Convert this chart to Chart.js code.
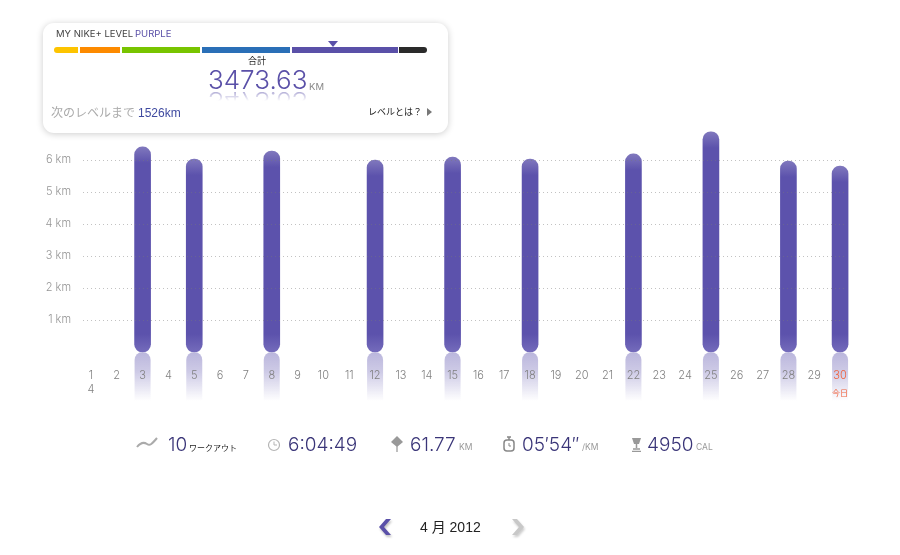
<!DOCTYPE html>
<html lang="ja">
<head>
<meta charset="utf-8">
<title>Nike+ 4月 2012</title>
<script src="https://cdn.jsdelivr.net/npm/chart.js@4"></script>
<style>
  html, body { margin: 0; padding: 0; background: #fff; }
  #page { position: relative; width: 900px; height: 555px; overflow: hidden;
          font-family: Inter, "Noto Sans CJK JP", sans-serif; }
  #page span, #page div.abs, #page svg { position: absolute; white-space: nowrap; }
  canvas { position: absolute; left: 0; top: 0; }

  /* level panel */
  #panel { position: absolute; left: 43px; top: 23px; width: 405px; height: 110px; background: #fff;
           border-radius: 11px; box-shadow: 0 1px 7px rgba(0,0,0,.2); }
  .seg { position: absolute; top: 47px; height: 6px; }
  .total { left: 208px; top: 65px; font-size: 26px; font-weight: 300; color: #5a50a8; line-height: 30px; }
  .mirror { top: 86px; transform: scaleY(-1);
            -webkit-mask-image: linear-gradient(to top, rgba(0,0,0,.75), transparent 50%);
            mask-image: linear-gradient(to top, rgba(0,0,0,.75), transparent 50%); }

  /* stats row */
  .big { top: 433px; font-size: 19px; line-height: 23px; font-weight: 300; color: #3a3578; }
  .unit { top: 441px; font-size: 8.5px; line-height: 12px; color: #999; }
</style>
</head>
<body>
<div id="page">
  <canvas id="runChart" width="900" height="555"></canvas>

  <div id="panel"></div>
  <span style="left:56px;top:28px;font-size:9.5px;line-height:12px;color:#444">MY NIKE+ LEVEL</span>
  <span style="left:135px;top:28px;font-size:9.5px;line-height:12px;color:#5a50a8">PURPLE</span>
  <div class="seg" style="left:54px;width:24px;background:#fdc400;border-radius:3px 0 0 3px"></div>
  <div class="seg" style="left:80px;width:40px;background:#fd8a00"></div>
  <div class="seg" style="left:122px;width:78px;background:#78c400"></div>
  <div class="seg" style="left:202px;width:88px;background:#2a6fb7"></div>
  <div class="seg" style="left:292px;width:106px;background:#5a50a8"></div>
  <div class="seg" style="left:399px;width:28px;background:#2a2a2a;border-radius:0 3px 3px 0"></div>
  <svg style="left:328px;top:41px" width="10" height="6"><path d="M0 0H10L5 6Z" fill="#5a50a8"/></svg>
  <span style="left:248px;top:55px;font-size:9px;line-height:12px;color:#222">合計</span>
  <span class="total">3473.63</span>
  <span class="total mirror">3473.63</span>
  <span style="left:309px;top:81px;font-size:9.5px;line-height:12px;color:#888">KM</span>
  <span style="left:51px;top:105px;font-size:12px;line-height:16px;color:#aaa">次のレベルまで</span>
  <span style="left:138px;top:105px;font-size:12px;line-height:16px;color:#3f4aa0;font-family:'Liberation Sans',sans-serif">1526km</span>
  <span style="left:368px;top:105px;font-size:9px;line-height:13px;color:#222">レベルとは？</span>
  <svg style="left:427px;top:108px" width="5" height="8"><path d="M0 0L5 4L0 8Z" fill="#777"/></svg>

  <span id="today" style="font-size:8px;line-height:10px;color:#f0603a;top:388px">今日</span>

  <!-- stats -->
  <svg style="left:136px;top:436px" width="22" height="14"><path d="M1 11C5 6 8 6 11 8S16 8 21 2" fill="none" stroke="#aaa" stroke-width="2"/></svg>
  <span class="big" style="left:168px">10</span>
  <span class="unit" style="left:189px;top:442px;font-size:8px;color:#222">ワークアウト</span>
  <svg style="left:267px;top:438px" width="14" height="14"><circle cx="7" cy="7" r="5.5" fill="none" stroke="#b5b5b5" stroke-width="1.2"/><path d="M7 3.5V7H10" fill="none" stroke="#b5b5b5"/></svg>
  <span class="big" style="left:288px">6:04:49</span>
  <svg style="left:391px;top:436px" width="12" height="16"><path d="M6 0L12 6L6 11L0 6Z" fill="#999"/><path d="M6 10V16" stroke="#aaa" stroke-width="1.5"/></svg>
  <span class="big" style="left:410px">61.77</span>
  <span class="unit" style="left:459px">KM</span>
  <svg style="left:503px;top:436px" width="12" height="16"><path d="M4 1H8M6 1V4" stroke="#888" stroke-width="1.5"/><rect x="1" y="4" width="10" height="11" rx="3" fill="none" stroke="#888" stroke-width="1.5"/><path d="M6 7V10H8" fill="none" stroke="#888"/></svg>
  <span class="big" style="left:522px">05′54″</span>
  <span class="unit" style="left:582px">/KM</span>
  <svg style="left:631px;top:436px" width="11" height="16"><path d="M1 2H10L8 8H3Z" fill="#999"/><path d="M5.5 8V12M2 13H9M1 15.5H10" stroke="#999" stroke-width="1.5"/></svg>
  <span class="big" style="left:647px">4950</span>
  <span class="unit" style="left:696px">CAL</span>

  <!-- month nav -->
  <svg style="left:376px;top:517px;filter:drop-shadow(1px 2px 1px rgba(0,0,0,.25))" width="20" height="22"><path d="M15 2L8 10L15 18H10L3 10L10 2Z" fill="#5a50a8"/></svg>
  <span style="left:420px;top:519px;font-size:14px;line-height:16px;color:#222;font-family:'Liberation Sans','Noto Sans CJK JP',sans-serif">4 月 2012</span>
  <svg style="left:509px;top:517px;filter:drop-shadow(1px 2px 1px rgba(0,0,0,.2))" width="20" height="22"><path d="M3 2L10 10L3 18H8L15 10L8 2Z" fill="#c8c8c8"/></svg>
</div>

<script>
// ── Data ─────────────────────────────────────────────────────
const days = [['1', '4'], '2', '3', '4', '5', '6', '7', '8', '9', '10',
  '11', '12', '13', '14', '15', '16', '17', '18', '19', '20',
  '21', '22', '23', '24', '25', '26', '27', '28', '29', '30'];
const kmPerDay = [null, null, 6.41, null, 6.03, null, null, 6.28, null, null,
  null, 6.0, null, null, 6.09, null, null, 6.03, null, null,
  null, 6.19, null, null, 6.88, null, null, 5.97, null, 5.81];
const kmTicks = [1, 2, 3, 4, 5, 6];

// ── Bar fill, lighter at the round ends ──────────────────────
function barFill(c) {
  if (c.raw == null) return 'transparent';
  const y = c.chart.scales.y;
  if (!y) return '#5b51ac';
  const top = y.getPixelForValue(c.raw), base = y.getPixelForValue(0);
  const h = base - top;
  const g = c.chart.ctx.createLinearGradient(0, top, 0, base);
  g.addColorStop(0, '#8078bd');
  g.addColorStop(16 / h, '#5c52ac');
  g.addColorStop(1 - 18 / h, '#5c52ac');
  g.addColorStop(1, '#746bbb');
  return g;
}

// ── Reflections under the bars, and the dotted km lines ──────
const decor = {
  id: 'decor',
  beforeDraw(chart) {
    const { ctx, scales: { y } } = chart;
    const base = y.getPixelForValue(0);
    chart.getDatasetMeta(0).data.forEach((bar, i) => {
      if (kmPerDay[i] == null) return;
      const g = ctx.createLinearGradient(0, base, 0, base + 49);
      g.addColorStop(0, 'rgba(91,81,172,.42)');
      g.addColorStop(.4, 'rgba(91,81,172,.3)');
      g.addColorStop(1, 'rgba(91,81,172,0)');
      ctx.save();
      ctx.fillStyle = g;
      ctx.beginPath();
      ctx.roundRect(bar.x - 8, base, 16, 49, [8, 8, 0, 0]);
      ctx.fill();
      ctx.restore();
    });
  },
  afterDatasetsDraw(chart) {
    const { ctx, scales: { y } } = chart;
    ctx.save();
    ctx.strokeStyle = 'rgba(120,120,120,.45)';
    ctx.setLineDash([1, 3]);
    kmTicks.forEach(v => {
      const py = Math.round(y.getPixelForValue(v)) + .5;
      ctx.beginPath();
      ctx.moveTo(83, py);
      ctx.lineTo(847, py);
      ctx.stroke();
    });
    ctx.restore();
  }
};

// ── Chart ────────────────────────────────────────────────────
const chart = new Chart(document.getElementById('runChart'), {
  type: 'bar',
  data: {
    labels: days,
    datasets: [{
      data: kmPerDay,
      backgroundColor: barFill,
      barThickness: 16,
      borderRadius: 8,
      borderSkipped: false
    }]
  },
  plugins: [decor],
  options: {
    responsive: false,
    animation: false,
    layout: { padding: { top: 128, right: 47, bottom: 0, left: 0 } },
    plugins: { legend: { display: false }, tooltip: { enabled: false } },
    scales: {
      x: {
        afterFit: s => { s.height = 203; },
        grid: { display: false },
        border: { display: false },
        ticks: {
          autoSkip: false, maxRotation: 0, padding: 9,
          font: { family: 'Inter', size: 11, weight: 300, lineHeight: 1.25 },
          color: c => c.index === 29 ? '#f0603a' : '#808080'
        }
      },
      y: {
        min: 0, max: 7,
        afterFit: s => { s.width = 78; },
        afterBuildTicks: s => { s.ticks = kmTicks.map(value => ({ value })); },
        grid: { display: false, drawTicks: false },
        border: { display: false },
        ticks: {
          padding: 7,
          font: { family: 'Inter', size: 11, weight: 300 },
          color: '#959595',
          callback: v => v + ' km'
        }
      }
    }
  }
});

// 今日 sits under the last day
const today = document.getElementById('today');
today.style.left = (chart.scales.x.getPixelForValue(29) - 8) + 'px';
</script>
</body>
</html>
